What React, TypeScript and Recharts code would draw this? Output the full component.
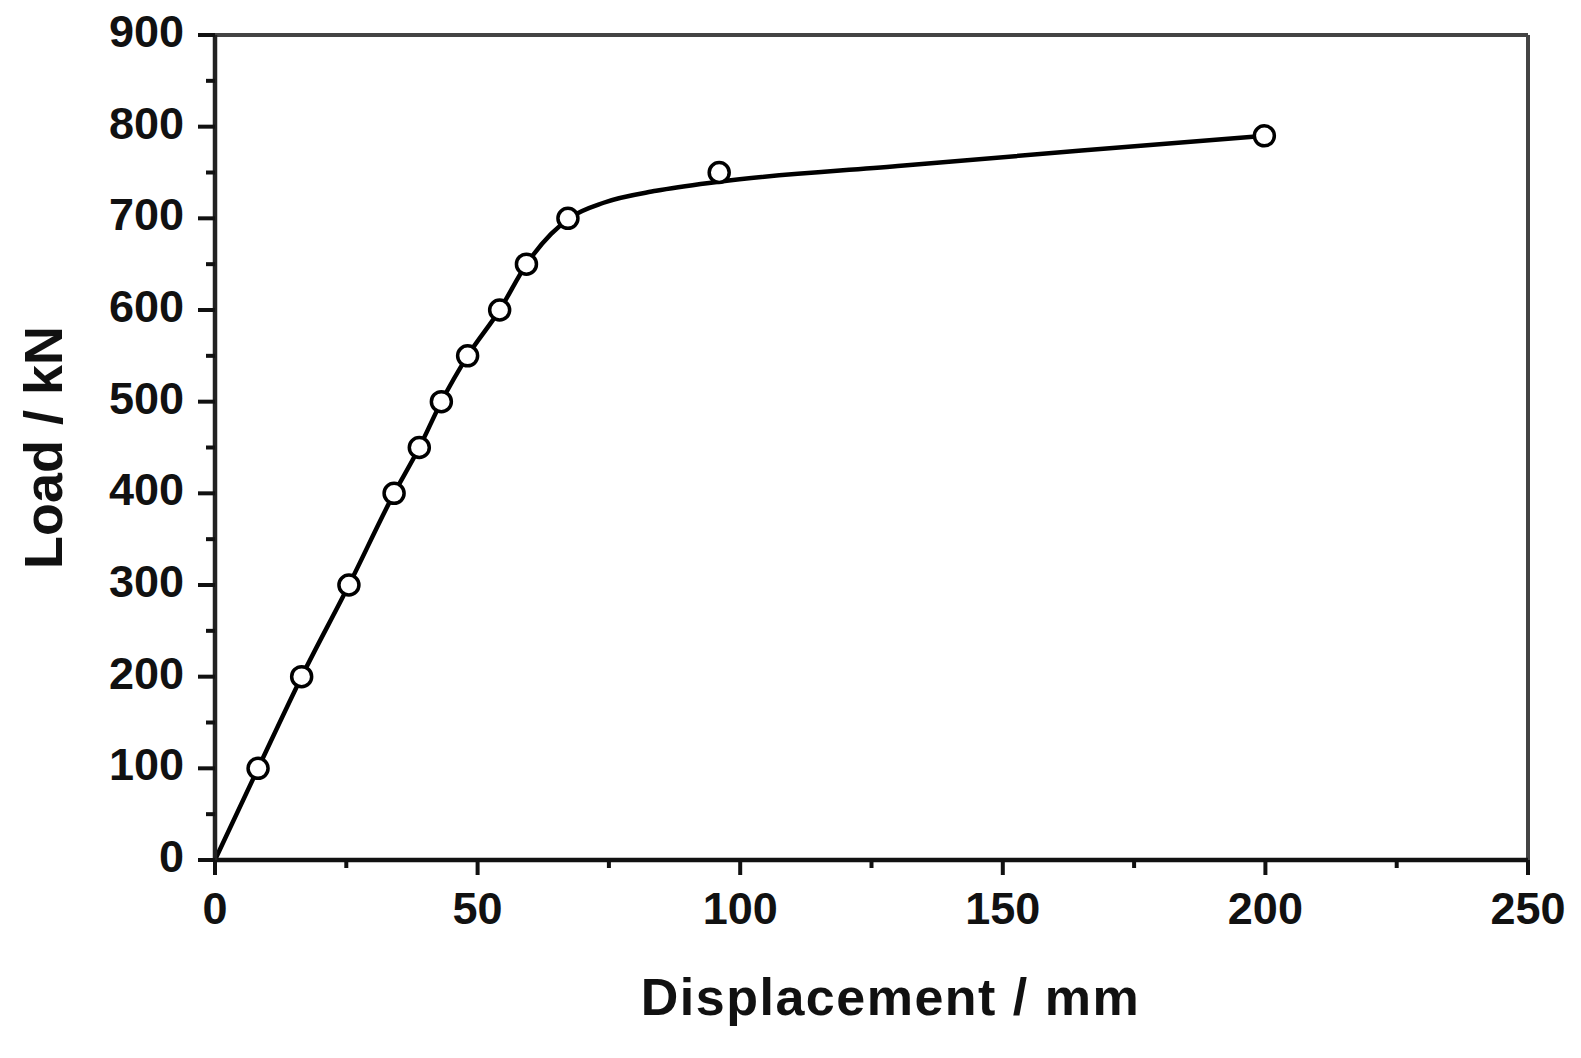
import React from "react";
import {
  ComposedChart,
  Line,
  Scatter,
  XAxis,
  YAxis,
  ReferenceLine,
} from "recharts";

// measured points (open circles)
const dispPoints = [8.2, 16.5, 25.5, 34.1, 38.9, 43.1, 48.1, 54.2, 59.3, 67.2, 96, 199.8];
const loadPoints = [100, 200, 300, 400, 450, 500, 550, 600, 650, 700, 750, 790];

// fitted curve
const dispCurve = [0, 8.2, 16.5, 25.5, 34.1, 38.9, 43.1, 48.1, 54.2, 59.3, 64, 68, 74, 84, 96, 130, 165, 200];
const loadCurve = [0, 100, 200, 300, 400, 450, 500, 550, 600, 650, 683, 702, 717, 730, 740, 757, 774, 790];

const xTicks = [0, 25, 50, 75, 100, 125, 150, 175, 200, 225, 250];
const yTicks = [0, 50, 100, 150, 200, 250, 300, 350, 400, 450, 500, 550, 600, 650, 700, 750, 800, 850, 900];

const points = dispPoints.map((d, i) => ({ disp: d, load: loadPoints[i] }));
const curve = dispCurve.map((d, i) => ({ disp: d, load: loadCurve[i] }));

const FONT = '"Liberation Sans", Arial, Helvetica, sans-serif';

const XTick = (props: any) => {
  const { x, y, payload } = props;
  const major = payload.value % 50 === 0;
  return (
    <g>
      <line x1={x} x2={x} y1={y} y2={y + (major ? 15 : 8)} stroke="#111" strokeWidth={4} />
      {major && (
        <text
          x={x}
          y={y + 64}
          textAnchor="middle"
          fontFamily={FONT}
          fontWeight="bold"
          fontSize={45}
          fill="#111"
        >
          {payload.value}
        </text>
      )}
    </g>
  );
};

const YTick = (props: any) => {
  const { x, y, payload } = props;
  const major = payload.value % 100 === 0;
  return (
    <g>
      <line x1={x - (major ? 17 : 9)} x2={x} y1={y} y2={y} stroke="#111" strokeWidth={4} />
      {major && (
        <text
          x={x - 31}
          y={y + 12}
          textAnchor="end"
          fontFamily={FONT}
          fontWeight="bold"
          fontSize={45}
          fill="#111"
        >
          {payload.value}
        </text>
      )}
    </g>
  );
};

const Marker = (props: any) => {
  const { cx, cy } = props;
  return <circle cx={cx} cy={cy} r={10} fill="#fff" stroke="#000" strokeWidth={3.5} />;
};

export default function App() {
  return (
    <div style={{ position: "absolute", left: 0, top: 0, background: "#fff" }}>
      <ComposedChart
        width={1581}
        height={1058}
        margin={{ top: 35, right: 53, left: 20, bottom: 38 }}
      >
        <XAxis
          dataKey="disp"
          type="number"
          domain={[0, 250]}
          ticks={xTicks}
          interval={0}
          height={160}
          tickSize={0}
          tickMargin={0}
          tickLine={false}
          tick={<XTick />}
          axisLine={{ stroke: "#111", strokeWidth: 4.5 }}
          label={{
            value: "Displacement / mm",
            position: "insideBottom",
            offset: 5,
            dx: 19,
            style: {
              fontFamily: FONT,
              fontWeight: "bold",
              fontSize: 52,
              letterSpacing: 1.5,
              fill: "#111",
            },
          }}
        />
        <YAxis
          type="number"
          domain={[0, 900]}
          ticks={yTicks}
          interval={0}
          width={195}
          tickSize={0}
          tickMargin={0}
          tickLine={false}
          tick={<YTick />}
          axisLine={{ stroke: "#222", strokeWidth: 4.5 }}
          label={{
            value: "Load / kN",
            angle: -90,
            position: "insideLeft",
            offset: 23,
            style: {
              textAnchor: "middle",
              fontFamily: FONT,
              fontWeight: "bold",
              fontSize: 54,
              fill: "#111",
            },
          }}
        />
        <ReferenceLine y={900} stroke="#444" strokeWidth={4} />
        <ReferenceLine x={250} stroke="#444" strokeWidth={4} />
        <Line
          data={curve}
          dataKey="load"
          type="monotone"
          stroke="#000"
          strokeWidth={4.5}
          dot={false}
          activeDot={false}
          isAnimationActive={false}
        />
        <Scatter
          data={points}
          dataKey="load"
          shape={<Marker />}
          isAnimationActive={false}
        />
      </ComposedChart>
    </div>
  );
}
